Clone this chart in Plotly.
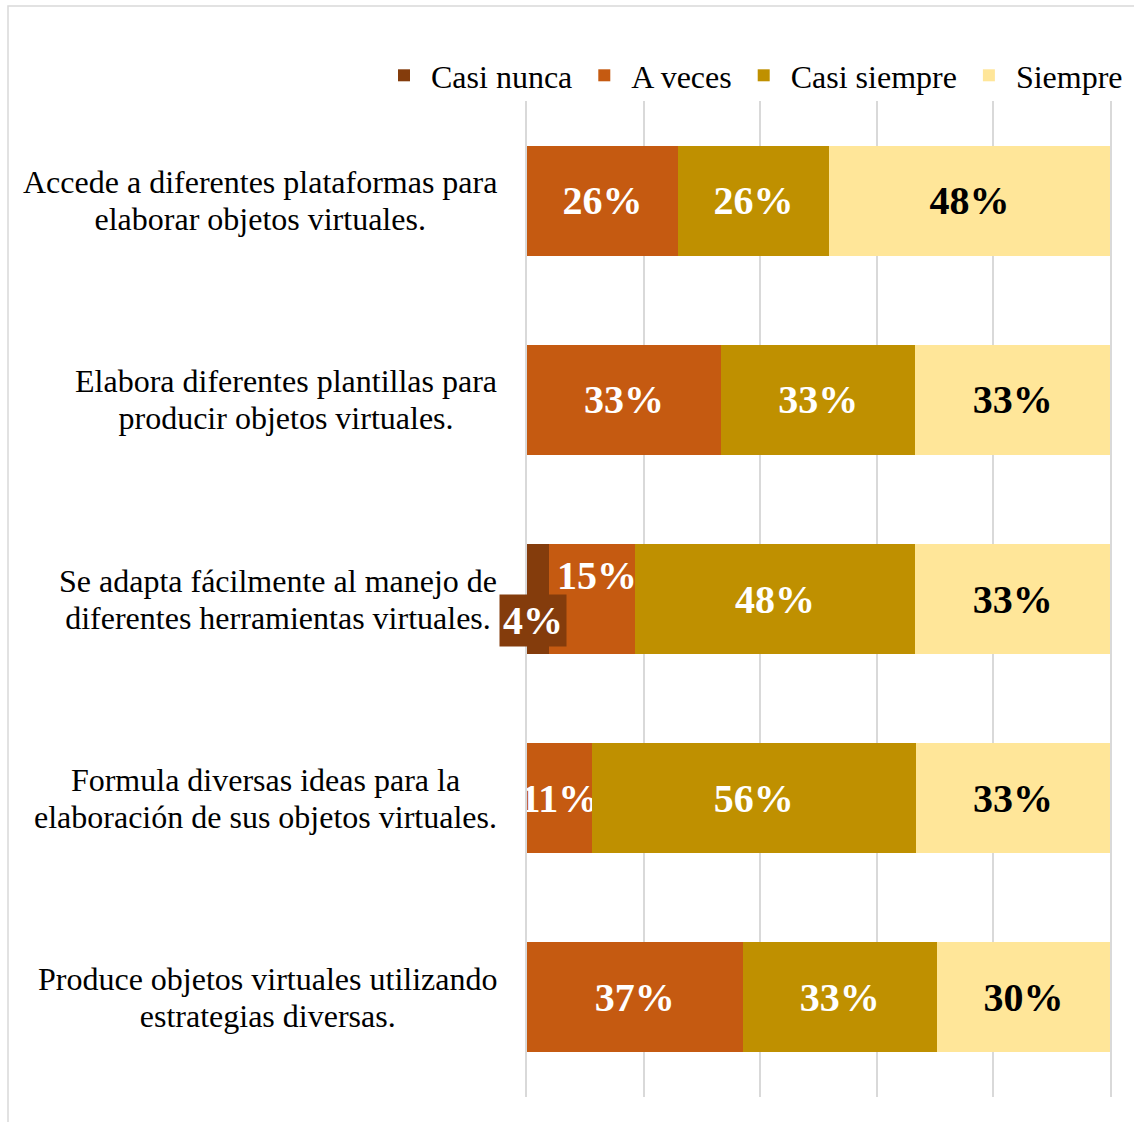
import plotly.graph_objects as go

categories = [
    "Accede a diferentes plataformas para<br>elaborar objetos virtuales.",
    "Elabora diferentes plantillas para<br>producir objetos virtuales.",
    "Se adapta fácilmente al manejo de<br>diferentes herramientas virtuales.",
    "Formula diversas ideas para la<br>elaboración de sus objetos virtuales.",
    "Produce objetos virtuales utilizando<br>estrategias diversas.",
]
# percentages (labels are rounded)
casi_nunca = [0, 0, 3.7, 0, 0]
a_veces = [25.9, 33.3, 14.8, 11.1, 37.0]
casi_siempre = [25.9, 33.3, 48.1, 55.6, 33.3]
siempre = [48.2, 33.4, 33.4, 33.3, 29.7]

series = [
    ("Casi nunca", casi_nunca, "#843C0C", "white"),
    ("A veces", a_veces, "#C55A11", "white"),
    ("Casi siempre", casi_siempre, "#BF9000", "white"),
    ("Siempre", siempre, "#FFE699", "black"),
]

SERIF = "Liberation Serif, Times New Roman, serif"
fig = go.Figure()
for name, vals, color, tcolor in series:
    texts = []
    for i, v in enumerate(vals):
        if v == 0 or name == "Casi nunca" or (name == "A veces" and casi_nunca[i] > 0):
            texts.append("")
        else:
            texts.append(f"{v:.0f}%")
    fig.add_trace(go.Bar(
        name=name, y=categories, x=vals, orientation="h",
        marker=dict(color=color, line=dict(width=0)),
        text=texts, textposition="inside", insidetextanchor="middle",
        constraintext="none", textangle=0,
        textfont=dict(family=SERIF, size=40, color=tcolor, weight="bold"),
        hoverinfo="skip",
    ))

annotations = []
# category labels, centered lines, right edge near the axis
for c in categories:
    annotations.append(dict(
        x=0, xref="paper", y=c, yref="y", xanchor="right", yanchor="middle",
        xshift=-28, text=f"<span style='font-size:32px'>{c.replace('<br>', '</span><br><span style=\"font-size:32px\">')}</span>",
        showarrow=False, align="center",
        font=dict(family=SERIF, size=28.5, color="black"),
    ))
# small segments with special labels
for i, c in enumerate(categories):
    if casi_nunca[i] > 0:
        annotations.append(dict(
            x=casi_nunca[i] / 2, xref="x", y=c, yref="y", text=f"{casi_nunca[i]:.0f}%",
            showarrow=False, yshift=-21, xshift=-5, bgcolor="#843C0C", borderpad=3,
            font=dict(family=SERIF, size=40, color="white", weight="bold"),
        ))
        annotations.append(dict(
            x=casi_nunca[i] + a_veces[i] / 2, xref="x", y=c, yref="y", text=f"{a_veces[i]:.0f}%",
            showarrow=False, yshift=24, xshift=5,
            font=dict(family=SERIF, size=40, color="white", weight="bold"),
        ))

pw, ph = 583, 996
left, top = 527, 101
fig.add_shape(
    type="rect", xref="paper", yref="paper",
    x0=(8 - left) / pw, x1=(1140 - left) / pw,
    y0=-0.1, y1=(ph + top - 6) / ph,
    line=dict(color="#D9D9D9", width=1.5), fillcolor="rgba(0,0,0,0)", layer="below",
)

fig.update_layout(
    barmode="stack",
    bargap=0.447,
    width=1134, height=1122,
    margin=dict(l=left, r=1134 - left - pw, t=top, b=1122 - top - ph, autoexpand=False),
    paper_bgcolor="white", plot_bgcolor="white",
    showlegend=True,
    legend=dict(
        orientation="h", xref="paper", x=(377 - left) / pw, xanchor="left",
        yref="paper", y=(ph + top - 48) / ph, yanchor="top",
        font=dict(family=SERIF, size=32, color="black"),
        bgcolor="rgba(0,0,0,0)",
        traceorder="normal", itemwidth=44,
    ),
    xaxis=dict(range=[0, 100], dtick=20, showgrid=True, gridcolor="#D9D9D9",
               gridwidth=1.5, zeroline=False, showticklabels=False, fixedrange=True),
    yaxis=dict(autorange="reversed", showticklabels=False, showgrid=False,
               zeroline=False, showline=True, mirror=True, linecolor="#D9D9D9",
               linewidth=1.5),
    annotations=annotations,
)

fig.write_html("out.html")
